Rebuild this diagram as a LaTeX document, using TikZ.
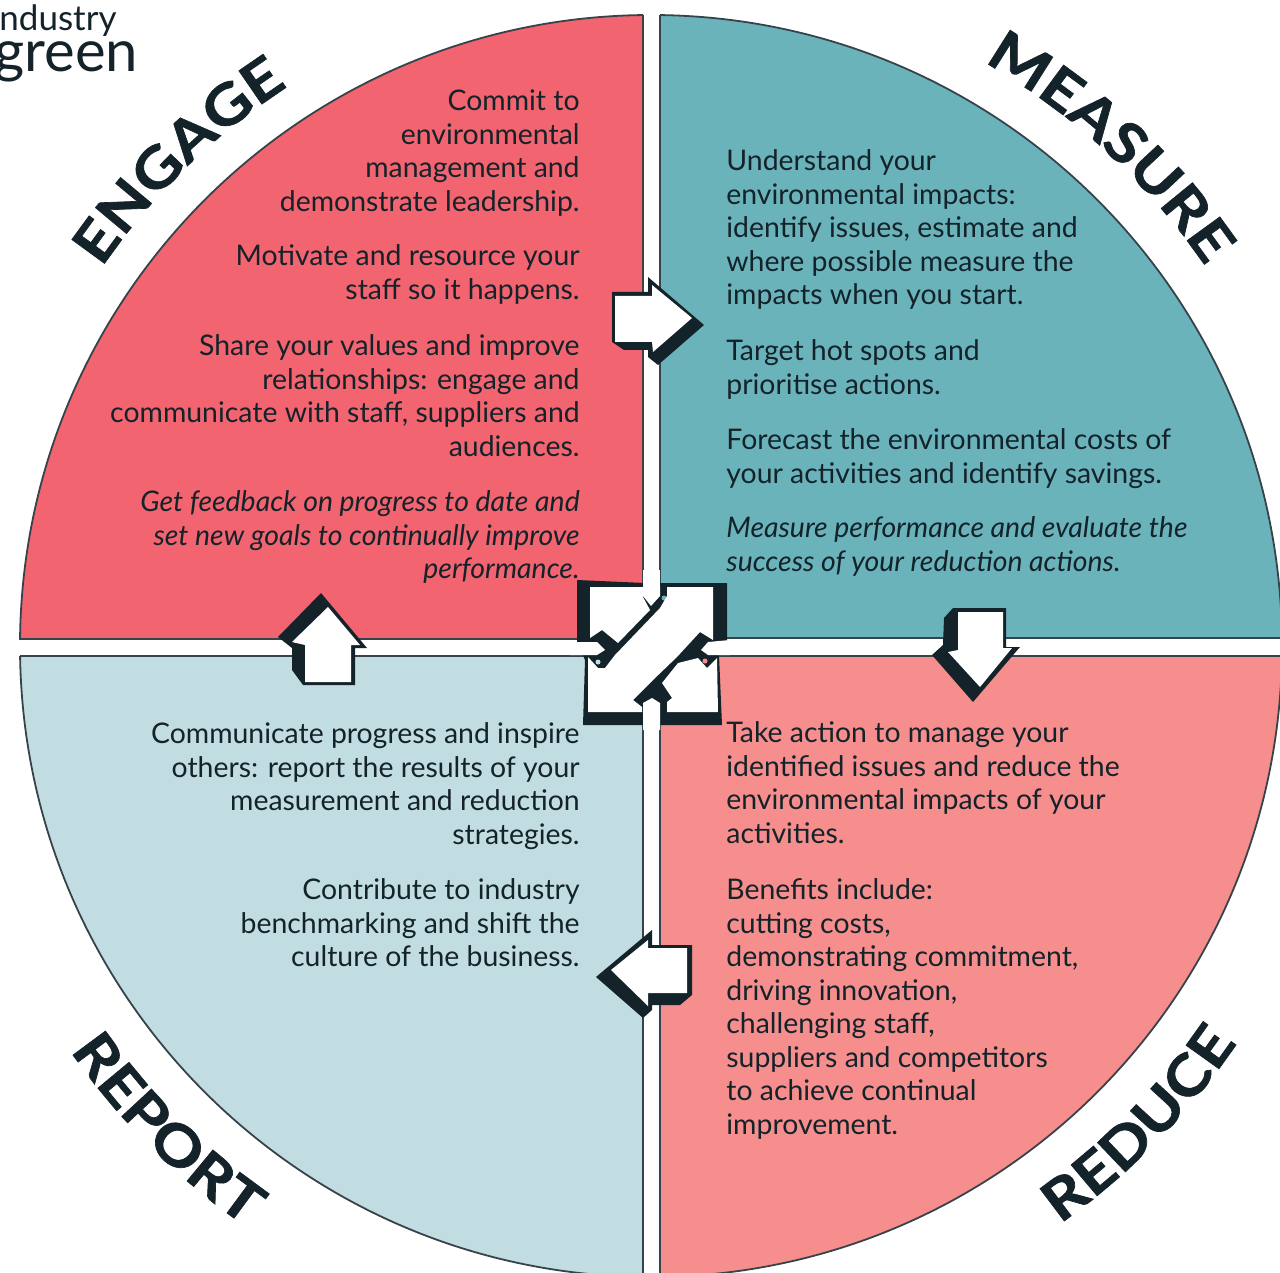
\documentclass[tikz,border=0pt]{standalone}
\usepackage{fontspec}
\setmainfont{Lato}
\newfontface\ringfont{Lato Bold}[FakeBold=1.2,FakeStretch=1.15]
\usetikzlibrary{decorations.text}
\definecolor{engagecol}{HTML}{F2646F}
\definecolor{measurecol}{HTML}{6BB3BB}
\definecolor{reportcol}{HTML}{C2DDE1}
\definecolor{reducecol}{HTML}{F58E8D}
\definecolor{inkcol}{HTML}{14222A}
\tikzset{
  quadline/.style={draw=inkcol!85,line width=.9pt},
  bodytext/.style={inner sep=0pt,text=inkcol,font=\fontsize{14.2}{16.75}\selectfont,execute at begin node=\strut},
  txtleft/.style={bodytext,anchor=north west,align=left},
  txtright/.style={bodytext,anchor=north east,align=right},
  arrowback/.style={fill=inkcol},
  arrowface/.style={fill=white},
  curved/.style={decorate,decoration={text along path,text align={align=center},
    text={|\fontsize{28}{28}\ringfont\color{inkcol}|#1}}}
}
\begin{document}
\begin{tikzpicture}[x=.5pt,y=-.5pt]
\clip (0,0) rectangle (1280,1273);
% quadrants
\foreach \xa/\ya/\xb/\yb/\col in {-10/-10/643/639/engagecol,660/-10/1290/638/measurecol,-10/656/643/1290/reportcol,660/656/1290/1290/reducecol}{
  \begin{scope}
    \clip (\xa,\ya) rectangle (\xb,\yb);
    \draw[quadline,fill=\col] (651,646) circle [radius=631];
  \end{scope}
}
\draw[quadline] (643,15) -- (643,639) -- (20,639);
\draw[quadline] (660,15) -- (660,638) -- (1290,638);
\draw[quadline] (20,656) -- (643,656) -- (643,1290);
\draw[quadline] (660,1290) -- (660,656) -- (1290,656);
% ring labels
\path[curved=ENGAGE] (651,646) ++(-145.4:667) arc [start angle=-145.4,end angle=-123,radius=667];
\path[curved=MEASURE] (651,646) ++(-60.4:672) arc [start angle=-60.4,end angle=-34.3,radius=672];
\path[curved=REPORT] (651,646) ++(-215:708) arc [start angle=-215,end angle=-235,radius=708];
\path[curved=REDUCE] (651,646) ++(-305.4:708) arc [start angle=-305.4,end angle=-325.8,radius=708];
% logo
\node[inner sep=0pt,anchor=base west,text=inkcol,font=\fontsize{17.5}{19}\selectfont] (logotop) at (-1,31) {ndustry};
\node[inner sep=0pt,anchor=base west,text=inkcol,font=\fontsize{29}{30}\selectfont] (logobottom) at (-6,72) {green};
% engage text
\node[txtright] (engageA) at (580,89.6) {Commit to\\environmental\\management and\\demonstrate leadership.};
\node[txtright] (engageB) at (580,244.6) {Motivate and resource your\\staff so it happens.};
\node[txtright] (engageC) at (580,334.6) {Share your values and improve\\relationships: engage and\\communicate with staff, suppliers and\\audiences.};
\node[txtright,font=\fontsize{14.2}{16.75}\selectfont\itshape] (engageD) at (580,490.6) {Get feedback on progress to date and\\set new goals to continually improve\\performance.};
% measure text
\node[txtleft] (measureA) at (726,149.6) {Understand your\\environmental impacts:\\identify issues, estimate and\\where possible measure the\\impacts when you start.};
\node[txtleft] (measureB) at (726,339.6) {Target hot spots and\\prioritise actions.};
\node[txtleft] (measureC) at (726,428.6) {Forecast the environmental costs of\\your activities and identify savings.};
\node[txtleft,font=\fontsize{14.2}{16.75}\selectfont\itshape] (measureD) at (726,516.6) {Measure performance and evaluate the\\success of your reduction actions.};
% report text
\node[txtright] (reportA) at (580,722.6) {Communicate progress and inspire\\others: report the results of your\\measurement and reduction\\strategies.};
\node[txtright] (reportB) at (580,878.6) {Contribute to industry\\benchmarking and shift the\\culture of the business.};
% reduce text
\node[txtleft] (reduceA) at (726,721.6) {Take action to manage your\\identified issues and reduce the\\environmental impacts of your\\activities.};
\node[txtleft] (reduceB) at (726,878.6) {Benefits include:\\cutting costs,\\demonstrating commitment,\\driving innovation,\\challenging staff,\\suppliers and competitors\\to achieve continual\\improvement.};
% outer arrows
\fill[arrowback] (612,292)--(648,292)--(648,277)--(704,325)--(658,365)--(648,357)--(648,350)--(624,350)--(612,342)--cycle;
\fill[arrowface] (615,296)--(652,296)--(652,285)--(692,318)--(653,352)--(652,342)--(615,342)--cycle;
\fill[arrowback] (953,608)--(1006,608)--(1006,647)--(1020,647)--(973,702)--(932,655)--(943,645)--(944,618)--cycle;
\fill[arrowface] (958,612)--(1003,612)--(1003,648)--(1012,648)--(980,687)--(948,652)--(958,650)--cycle;
\fill[arrowback] (596,977)--(652,930)--(652,945)--(692,945)--(692,995)--(680,1005)--(652,1005)--(652,1010)--(643,1018)--cycle;
\fill[arrowface] (611,970)--(648,940)--(648,948)--(687,948)--(687,993)--(648,993)--(648,1006)--cycle;
\fill[arrowback] (321,593)--(367,648)--(355,648)--(355,685)--(303,685)--(292,670)--(292,648)--(278,637)--cycle;
\fill[arrowface] (328,607)--(360,645)--(351,645)--(351,682)--(305,682)--(305,645)--(292,642)--cycle;
% centre cross
\fill[arrowback] (577,580)--(645,583)--(727,583)--(727,642)--(719,655)--(722,725)--(583,725)--(585,660)--(577,642)--cycle;
\fill[white] (643,570)--(660,570)--(660,588)--(643,588)--cycle;
\fill[engagecol] (640,595) circle [radius=2.5];
\fill[measurecol] (664,598) circle [radius=2.5];
\fill[reportcol] (598,662) circle [radius=2.5];
\fill[reducecol] (705,661) circle [radius=2.5];
\fill[arrowface] (643,586)--(660,586)--(660,596)--(651,606)--(643,596)--cycle;
\fill[arrowface] (570,642)--(597,642)--(605,650)--(597,655)--(570,655)--cycle;
\fill[arrowface] (708,642)--(730,640)--(730,655)--(708,655)--(701,650)--cycle;
\fill[arrowface] (643,712)--(643,703)--(652,698)--(660,703)--(660,712)--(660,730)--(643,730)--cycle;
\fill[arrowface] (590,587)--(643,587)--(643,597)--(650,610)--(618,643)--(602,630)--(590,638)--cycle;
\fill[arrowface] (667,587)--(713,587)--(713,640)--(700,632)--(677,657)--(653,680)--(633,700)--(642,707)--(642,712)--(588,712)--(588,657)--(598,668)--(605,668)--(615,655)--(660,608)--(667,596)--cycle;
\fill[arrowface] (662,683)--(678,663)--(698,658)--(707,668)--(717,658)--(718,712)--(667,712)--(667,702)--(672,698)--cycle;
\end{tikzpicture}
\end{document}
